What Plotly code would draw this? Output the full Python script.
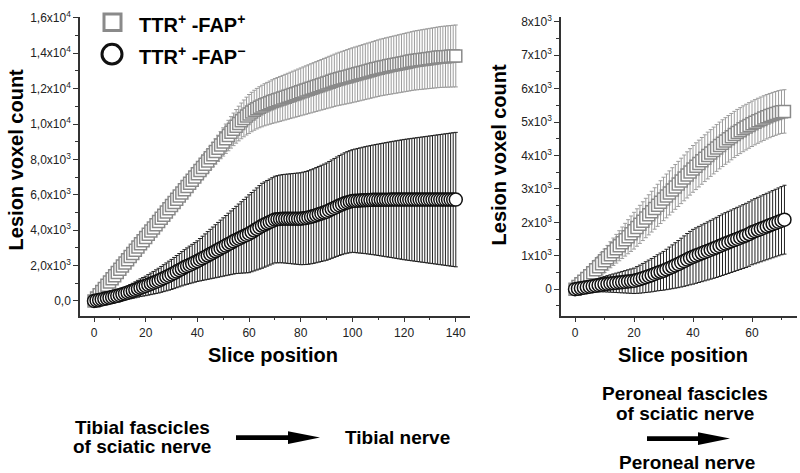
import plotly.graph_objects as go

# ---------------- data ----------------
slice_tibial = list(range(0, 141))
tibial_fap_pos = [
    0, 170, 350, 530, 710, 890, 1070, 1250, 1430, 1610,
    1790, 1970, 2150, 2330, 2510, 2690, 2870, 3050, 3230, 3410,
    3590, 3770, 3950, 4130, 4310, 4490, 4670, 4850, 5030, 5210,
    5390, 5570, 5750, 5930, 6110, 6290, 6470, 6650, 6830, 7010,
    7190, 7370, 7550, 7730, 7910, 8090, 8270, 8450, 8630, 8810,
    8990, 9170, 9350, 9530, 9700, 9870, 10030, 10180, 10320, 10450,
    10570, 10680, 10780, 10870, 10950, 11020, 11090, 11150, 11210, 11270,
    11320, 11370, 11420, 11470, 11520, 11570, 11620, 11670, 11720, 11770,
    11820, 11870, 11920, 11970, 12020, 12070, 12120, 12170, 12220, 12270,
    12320, 12370, 12420, 12470, 12520, 12560, 12600, 12640, 12680, 12720,
    12760, 12800, 12840, 12880, 12920, 12960, 13000, 13040, 13080, 13120,
    13160, 13200, 13230, 13260, 13290, 13320, 13350, 13380, 13410, 13440,
    13470, 13500, 13530, 13560, 13590, 13610, 13630, 13650, 13670, 13690,
    13710, 13730, 13750, 13770, 13790, 13800, 13810, 13820, 13830, 13840,
    13850]
tibial_fap_pos_err = [
    200, 210, 220, 230, 240, 250, 260, 270, 280, 290,
    300, 310, 320, 330, 340, 350, 360, 370, 380, 390,
    400, 405, 410, 415, 420, 425, 430, 435, 440, 445,
    450, 460, 470, 480, 490, 500, 510, 520, 530, 540,
    550, 570, 590, 610, 630, 650, 680, 710, 740, 770,
    800, 830, 860, 890, 920, 950, 980, 1010, 1040, 1070,
    1100, 1115, 1130, 1145, 1160, 1175, 1190, 1205, 1220, 1235,
    1250, 1260, 1270, 1280, 1290, 1300, 1310, 1320, 1330, 1340,
    1350, 1360, 1370, 1380, 1390, 1400, 1410, 1420, 1430, 1440,
    1450, 1460, 1470, 1480, 1490, 1500, 1510, 1520, 1530, 1540,
    1550, 1555, 1560, 1565, 1570, 1575, 1580, 1585, 1590, 1595,
    1600, 1605, 1610, 1615, 1620, 1625, 1630, 1635, 1640, 1645,
    1650, 1655, 1660, 1665, 1670, 1675, 1680, 1685, 1690, 1695,
    1700, 1705, 1710, 1715, 1720, 1725, 1730, 1735, 1740, 1745,
    1750]
tibial_fap_neg = [
    0, 30, 60, 90, 120, 150, 185, 220, 255, 290,
    330, 375, 420, 470, 520, 575, 630, 690, 750, 800,
    850, 910, 970, 1030, 1090, 1150, 1220, 1290, 1360, 1430,
    1500, 1580, 1660, 1740, 1820, 1900, 1970, 2040, 2110, 2180,
    2250, 2330, 2410, 2490, 2570, 2650, 2730, 2810, 2890, 2970,
    3050, 3130, 3210, 3290, 3370, 3450, 3520, 3590, 3660, 3730,
    3800, 3890, 3980, 4070, 4160, 4250, 4320, 4390, 4460, 4530,
    4600, 4620, 4640, 4650, 4650, 4650, 4650, 4650, 4650, 4650,
    4650, 4670, 4690, 4720, 4760, 4800, 4850, 4900, 4950, 5000,
    5050, 5120, 5190, 5260, 5330, 5400, 5460, 5520, 5570, 5610,
    5650, 5660, 5670, 5680, 5690, 5700, 5705, 5710, 5715, 5720,
    5720, 5722, 5724, 5726, 5728, 5730, 5730, 5730, 5730, 5730,
    5730, 5730, 5730, 5730, 5730, 5730, 5730, 5730, 5730, 5730,
    5730, 5730, 5730, 5730, 5730, 5730, 5730, 5730, 5730, 5730,
    5730]
tibial_fap_neg_err = [
    100, 120, 140, 160, 180, 200, 220, 240, 260, 280,
    300, 325, 350, 375, 400, 425, 450, 475, 500, 525,
    550, 580, 610, 640, 670, 700, 730, 760, 790, 820,
    850, 880, 910, 940, 970, 1000, 1030, 1060, 1090, 1120,
    1150, 1200, 1250, 1300, 1350, 1400, 1450, 1500, 1550, 1600,
    1650, 1700, 1750, 1800, 1850, 1900, 1960, 2020, 2080, 2140,
    2200, 2240, 2280, 2320, 2360, 2400, 2410, 2420, 2430, 2440,
    2450, 2465, 2480, 2495, 2510, 2525, 2540, 2555, 2570, 2585,
    2600, 2615, 2630, 2645, 2660, 2675, 2690, 2705, 2720, 2735,
    2750, 2765, 2780, 2795, 2810, 2825, 2840, 2855, 2870, 2885,
    2900, 2925, 2950, 2975, 3000, 3025, 3050, 3075, 3100, 3125,
    3150, 3175, 3200, 3225, 3250, 3275, 3300, 3325, 3350, 3375,
    3400, 3420, 3440, 3460, 3480, 3500, 3520, 3540, 3560, 3580,
    3600, 3620, 3640, 3660, 3680, 3700, 3720, 3740, 3760, 3780,
    3800]

slice_peroneal = list(range(0, 72))
peroneal_fap_pos = [
    0, 80, 160, 240, 320, 400, 490, 580, 670, 760,
    850, 940, 1030, 1120, 1210, 1300, 1390, 1480, 1570, 1660,
    1750, 1845, 1940, 2035, 2130, 2225, 2320, 2415, 2510, 2605,
    2700, 2790, 2880, 2970, 3060, 3150, 3240, 3330, 3420, 3510,
    3600, 3680, 3760, 3840, 3920, 4000, 4075, 4150, 4225, 4300,
    4370, 4435, 4500, 4565, 4630, 4690, 4745, 4800, 4850, 4900,
    4950, 4995, 5040, 5080, 5120, 5160, 5195, 5230, 5260, 5290,
    5310, 5320]
peroneal_fap_pos_err = [
    150, 170, 190, 210, 230, 250, 270, 290, 310, 330,
    350, 370, 390, 410, 430, 450, 470, 490, 510, 530,
    550, 560, 570, 580, 590, 600, 610, 620, 630, 640,
    650, 655, 660, 665, 670, 675, 680, 685, 690, 695,
    700, 700, 700, 700, 700, 700, 700, 700, 700, 700,
    700, 698, 696, 694, 692, 690, 688, 686, 684, 682,
    680, 677, 674, 671, 668, 665, 662, 659, 656, 653,
    650, 650]
peroneal_fap_neg = [
    0, 15, 30, 45, 60, 75, 90, 105, 120, 135,
    150, 160, 170, 180, 190, 200, 210, 220, 230, 240,
    250, 275, 300, 330, 360, 390, 420, 455, 490, 520,
    550, 590, 630, 670, 710, 750, 795, 840, 885, 930,
    970, 1005, 1040, 1075, 1110, 1145, 1180, 1215, 1250, 1290,
    1330, 1365, 1400, 1435, 1470, 1505, 1540, 1575, 1610, 1650,
    1700, 1735, 1770, 1805, 1840, 1875, 1910, 1945, 1980, 2015,
    2050, 2080]
peroneal_fap_neg_err = [
    80, 95, 110, 125, 140, 155, 170, 185, 200, 215,
    230, 245, 260, 275, 290, 305, 320, 335, 350, 365,
    380, 400, 420, 440, 460, 480, 500, 520, 540, 560,
    580, 605, 630, 655, 680, 705, 730, 755, 780, 800,
    820, 830, 840, 850, 860, 870, 880, 890, 900, 910,
    920, 925, 930, 935, 940, 945, 950, 955, 960, 965,
    970, 975, 980, 985, 990, 995, 1000, 1005, 1010, 1015,
    1020, 1030]

tibial_x_ticks = [0, 20, 40, 60, 80, 100, 120, 140]
tibial_y_ticks = [0, 2000, 4000, 6000, 8000, 10000, 12000, 14000, 16000]
tibial_y_labels = ["0,0", "2,0x10<sup>3</sup>", "4,0x10<sup>3</sup>", "6,0x10<sup>3</sup>",
                   "8,0x10<sup>3</sup>", "1,0x10<sup>4</sup>", "1,2x10<sup>4</sup>",
                   "1,4x10<sup>4</sup>", "1,6x10<sup>4</sup>"]
peroneal_x_ticks = [0, 20, 40, 60]
peroneal_y_ticks = [0, 1000, 2000, 3000, 4000, 5000, 6000, 7000, 8000]
peroneal_y_labels = ["0", "1x10<sup>3</sup>", "2x10<sup>3</sup>", "3x10<sup>3</sup>",
                     "4x10<sup>3</sup>", "5x10<sup>3</sup>", "6x10<sup>3</sup>",
                     "7x10<sup>3</sup>", "8x10<sup>3</sup>"]

series_names = ["TTR<sup>+</sup> -FAP<sup>+</sup>", "TTR<sup>+</sup> -FAP<sup>\u2212</sup>"]

# ---------------- styles ----------------
W, H = 800, 473
FONT = "Arial, Liberation Sans, sans-serif"
GRAY = "#8a8a8a"
GRAY_ERR = "#9c9c9c"
BLACK = "#111111"
AX = "#333333"


def px(x):
    return x / W


def py(y):
    return 1 - y / H


fig = go.Figure()


def add_series(x, y, err, symbol, color, errcolor, size, xa, ya, name):
    fig.add_trace(go.Scatter(
        x=x, y=y, mode="markers", name=name, showlegend=False,
        xaxis=xa, yaxis=ya,
        marker=dict(symbol=symbol, size=size, color="white",
                    line=dict(color=color, width=1.5)),
        error_y=dict(type="data", array=err, visible=True,
                     color=errcolor, thickness=1, width=2),
    ))


add_series(slice_tibial, tibial_fap_pos, tibial_fap_pos_err, "square", GRAY, GRAY_ERR, 12, "x", "y", series_names[0])
add_series(slice_tibial, tibial_fap_neg, tibial_fap_neg_err, "circle", BLACK, "#222222", 13, "x", "y", series_names[1])
add_series(slice_peroneal, peroneal_fap_pos, peroneal_fap_pos_err, "square", GRAY, GRAY_ERR, 12, "x2", "y2", series_names[0])
add_series(slice_peroneal, peroneal_fap_neg, peroneal_fap_neg_err, "circle", BLACK, "#222222", 13, "x2", "y2", series_names[1])

axis_common = dict(showline=True, linecolor=AX, linewidth=1.5, ticks="outside",
                   ticklen=5, tickwidth=1.2, tickcolor=AX, showgrid=False,
                   zeroline=False, tickfont=dict(family=FONT, size=12, color="#222222"))

ydom = [py(313), py(9)]
fig.update_layout(
    width=W, height=H, margin=dict(l=0, r=0, t=0, b=0),
    paper_bgcolor="white", plot_bgcolor="white", showlegend=False,
    xaxis=dict(domain=[px(80), px(470)], range=[-5.42, 145.5], anchor="y",
               tickmode="array", tickvals=tibial_x_ticks,
               minor=dict(dtick=10, tick0=0, ticks="outside", ticklen=3, tickcolor=AX),
               **axis_common),
    yaxis=dict(domain=ydom, range=[-833, 16060], anchor="x",
               tickmode="array", tickvals=tibial_y_ticks, ticktext=tibial_y_labels,
               minor=dict(dtick=1000, tick0=0, ticks="outside", ticklen=3, tickcolor=AX),
               **axis_common),
    xaxis2=dict(domain=[px(561), px(797)], range=[-4.75, 75.25], anchor="y2",
                tickmode="array", tickvals=peroneal_x_ticks,
                minor=dict(dtick=10, tick0=0, ticks="outside", ticklen=3, tickcolor=AX),
                **axis_common),
    yaxis2=dict(domain=ydom, range=[-794, 8150], anchor="x2",
                tickmode="array", tickvals=peroneal_y_ticks, ticktext=peroneal_y_labels,
                minor=dict(dtick=500, tick0=0, ticks="outside", ticklen=3, tickcolor=AX),
                **axis_common),
)

annotations = []


def text(x, y, s, size=20, angle=0, xanchor="center"):
    annotations.append(dict(x=px(x), y=py(y), xref="paper", yref="paper", text="<b>%s</b>" % s,
                            showarrow=False, textangle=angle, xanchor=xanchor, yanchor="middle",
                            font=dict(family=FONT, size=size, color="black")))


text(16, 155, "Lesion voxel count", angle=-90)
text(499, 150, "Lesion voxel count", angle=-90)
text(273, 353, "Slice position")
text(683, 353, "Slice position")
text(142, 427, "Tibial fascicles", size=19)
text(142, 446, "of sciatic nerve", size=19)
text(343, 437, "Tibial nerve", size=19, xanchor="left")
text(685, 392, "Peroneal fascicles", size=19)
text(685, 412, "of sciatic nerve", size=19)
text(687, 462, "Peroneal nerve", size=19)
# legend
text(137, 16, series_names[0], size=20, xanchor="left")
text(137, 48, series_names[1], size=20, xanchor="left")

shapes = [
    dict(type="rect", xref="paper", yref="paper", x0=px(104), x1=px(121), y0=py(23), y1=py(6),
         line=dict(color=GRAY, width=3), fillcolor="white"),
    dict(type="circle", xref="paper", yref="paper", x0=px(102), x1=px(122), y0=py(57), y1=py(37),
         line=dict(color=BLACK, width=3), fillcolor="white"),
]


def arrow(x0, x1, xh, y):
    shapes.append(dict(type="rect", xref="paper", yref="paper", x0=px(x0), x1=px(xh + 2),
                       y0=py(y + 2.5), y1=py(y - 2.5), line=dict(width=0), fillcolor="black"))
    shapes.append(dict(type="path", xref="paper", yref="paper",
                       path="M %f %f L %f %f L %f %f Z" % (px(xh), py(y - 6.5), px(x1), py(y), px(xh), py(y + 6.5)),
                       line=dict(width=0), fillcolor="black"))


arrow(236, 320, 288, 437)
arrow(647, 730, 698, 438)

fig.update_layout(annotations=annotations, shapes=shapes)
# remove the browser's default 8px page margin so the figure fills the window
fig.write_html("out.html", config={"displayModeBar": False},
               post_script="document.body.style.margin='0';")
